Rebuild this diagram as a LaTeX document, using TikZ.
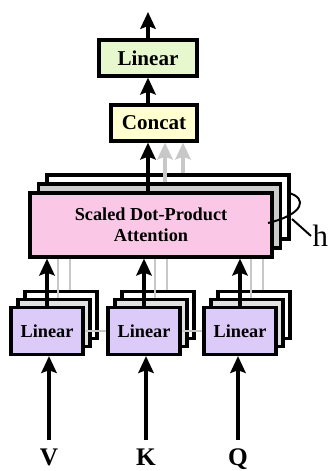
\documentclass[tikz,border=0pt]{standalone}
\usepackage{fontspec}
\setmainfont{Liberation Serif}
\usetikzlibrary{arrows.meta,calc}
\definecolor{outgreen}{RGB}{232,248,206}
\definecolor{catyellow}{RGB}{255,255,208}
\definecolor{attpink}{RGB}{250,200,230}
\definecolor{attgray}{RGB}{204,204,204}
\definecolor{projpurple}{RGB}{220,202,248}
\definecolor{projgray}{RGB}{226,226,226}
\definecolor{pathgray}{RGB}{200,200,200}
\tikzstyle{box}=[draw, line width=2.3pt, inner sep=0pt, align=center]
\tikzstyle{outbox}=[box, fill=outgreen, minimum width=2.45cm, minimum height=0.9cm,
  font=\fontsize{15}{17}\selectfont\bfseries]
\tikzstyle{catbox}=[outbox, fill=catyellow, minimum width=2.15cm]
\tikzstyle{attbox}=[box, minimum width=6.05cm, minimum height=1.6cm,
  font=\fontsize{13}{15}\selectfont\bfseries]
\tikzstyle{projbox}=[box, minimum width=1.8cm, minimum height=1.175cm,
  font=\fontsize{13}{15}\selectfont\bfseries]
\tikzstyle{input}=[inner sep=5.5pt, anchor=base, font=\fontsize{18}{20}\selectfont\bfseries]
\tikzstyle{arr}=[line width=2.2pt, -{Stealth[length=12pt,width=11pt,inset=2pt]}]
\tikzstyle{garr}=[arr, draw=pathgray, fill=pathgray]
\tikzstyle{gline}=[line width=2pt, draw=pathgray]

\begin{document}
\begin{tikzpicture}[x=0.025cm, y=-0.025cm]
    \useasboundingbox[fill=white] (0,0) rectangle (330,471);

    % output side
    \node[outbox] (lin) at (148,58) {Linear};
    \node[catbox] (cat) at (154,123) {Concat};
    \coordinate (top) at (148,12);

    % stacked attention heads, back to front
    \foreach \s/\c in {2/white, 1/attgray}
      \node[attbox, fill=\c] (att\s) at (151+8.5*\s, 225-9*\s) {};
    \node[attbox, fill=attpink] (att) at (151,225) {Scaled Dot-Product\\Attention};

    % projections of V, K, Q (three layers each)
    \foreach \i/\x in {1/47, 2/144, 3/240}{
      \node[projbox, fill=white] (pc\i) at (\x+14, 331-16) {};
      \node[projbox, fill=projgray] (pb\i) at (\x+7, 331-8) {};
      \node[projbox, fill=projpurple] (p\i) at (\x,331) {Linear};
    }
    \draw[gline] (p1.east) -- (p2.west);
    \draw[gline] (p2.east) -- (p3.west);

    % inputs
    \node[input] (v) at (49,465) {V};
    \node[input] (k) at (146,465) {K};
    \node[input] (q) at (238,465) {Q};
    \foreach \n/\i in {v/1, k/2, q/3}
      \draw[arr] (\n.north) -- (\n.north |- p\i.south);

    % projections up into attention
    \foreach \i in {1,2,3}{
      \coordinate (ga\i) at ($(pb\i.north)+(4,0)$);
      \coordinate (gb\i) at ($(pc\i.north)+(9,0)$);
      \draw[gline] (ga\i) -- (ga\i |- att.south);
      \draw[gline] (gb\i) -- (gb\i |- att.south);
      \draw[arr] (p\i.north) -- (p\i.north |- att.south);
    }

    % heads into concat
    \coordinate (ha) at ($(att1.north)+(5.5,0)$);
    \coordinate (hb) at ($(att2.north)+(15,0)$);
    \draw[garr] (ha) -- (ha |- cat.south);
    \draw[garr] (hb) -- (hb |- cat.south);
    \draw[arr] (att.north -| lin) -- (cat.south -| lin);
    \draw[arr] (cat.north -| lin) -- (lin.south);
    \draw[arr] (lin.north) -- (top);

    % brace over the heads
    \node[anchor=west, inner sep=1pt, font=\fontsize{22}{24}\selectfont] (h) at (311,236) {h};
    \draw[line width=1.4pt] (289,193) .. controls (307,198) and (305,214) .. (268,223);
    \draw[line width=1.4pt] (292,219) -- (h.west);
\end{tikzpicture}
\end{document}
